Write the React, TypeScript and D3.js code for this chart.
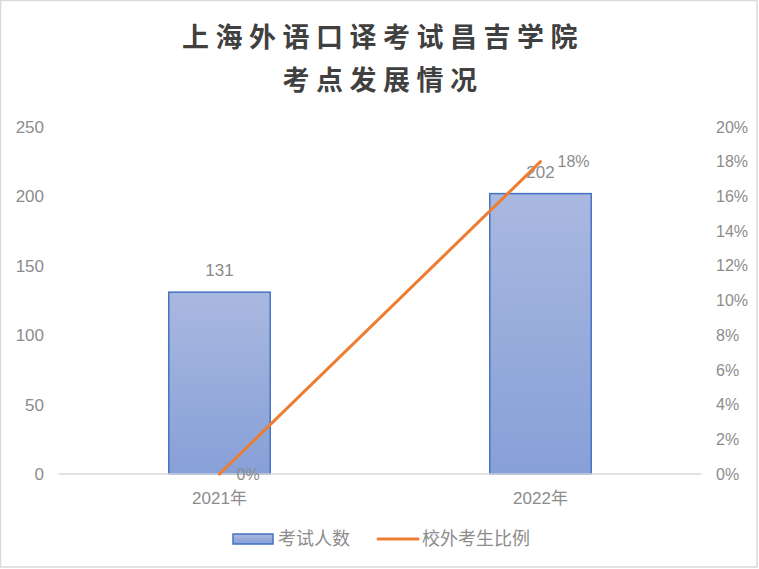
import React, { useRef, useEffect } from 'react';
import * as d3 from 'd3';

const years = ['2021年', '2022年'];
const examCounts = [131, 202];
const outsideRatio = [0, 0.18];
const leftTicks = [0, 50, 100, 150, 200, 250];
const rightTicks = [0, 0.02, 0.04, 0.06, 0.08, 0.1, 0.12, 0.14, 0.16, 0.18, 0.2];
const titleLines = ['上海外语口译考试昌吉学院', '考点发展情况'];
const legendNames = ['考试人数', '校外考生比例'];

const FONT = '"Liberation Sans", "Noto Sans CJK SC", sans-serif';
const CJK = '"Noto Sans CJK SC", sans-serif';
const GRAY = '#8c8c8c';

const App: React.FC = () => {
  const svgRef = useRef<SVGSVGElement>(null);
  const width = 759;
  const height = 569;

  useEffect(() => {
    if (!svgRef.current) return;
    const svg = d3.select(svgRef.current);
    svg.selectAll('*').remove();

    const plot = { left: 59, right: 701, top: 127, bottom: 474 };

    // background + frame
    svg.append('rect')
      .attr('x', 0.5).attr('y', 0.5)
      .attr('width', width - 2.5).attr('height', height - 2.5)
      .attr('fill', '#fff')
      .attr('stroke', '#d9d9d9')
      .attr('stroke-width', 1.5);

    const defs = svg.append('defs');
    const grad = defs.append('linearGradient')
      .attr('id', 'barFill')
      .attr('x1', 0).attr('y1', 0).attr('x2', 0).attr('y2', 1);
    grad.append('stop').attr('offset', '0%').attr('stop-color', '#a9b8e0');
    grad.append('stop').attr('offset', '100%').attr('stop-color', '#87a0d7');

    // Title
    titleLines.forEach((t, i) => {
      svg.append('text')
        .attr('x', 383)
        .attr('y', 47 + i * 43)
        .attr('text-anchor', 'middle')
        .attr('font-family', CJK)
        .attr('font-size', '27px')
        .attr('font-weight', 700)
        .attr('letter-spacing', '6.5px')
        .attr('fill', '#404040')
        .text(t);
    });

    // Scales
    const x = d3.scaleBand<string>()
      .domain(years)
      .range([plot.left, plot.right])
      .padding(0);
    const barW = x.bandwidth() * 0.316;
    const cx = (d: string) => (x(d) as number) + x.bandwidth() / 2;

    const yL = d3.scaleLinear().domain([0, 250]).range([plot.bottom, plot.top]);
    const yR = d3.scaleLinear().domain([0, 0.2]).range([plot.bottom, plot.top]);

    // Bars
    const g = svg.append('g');
    years.forEach((yr, i) => {
      g.append('rect')
        .attr('x', cx(yr) - barW / 2)
        .attr('y', yL(examCounts[i]))
        .attr('width', barW)
        .attr('height', yL(0) - yL(examCounts[i]))
        .attr('fill', 'url(#barFill)')
        .attr('stroke', '#4472c4')
        .attr('stroke-width', 1.5);
    });

    // Axis line
    svg.append('line')
      .attr('x1', plot.left).attr('x2', plot.right)
      .attr('y1', plot.bottom).attr('y2', plot.bottom)
      .attr('stroke', '#d9d9d9')
      .attr('stroke-width', 1.5);

    // Left ticks
    leftTicks.forEach(t => {
      svg.append('text')
        .attr('x', 44)
        .attr('y', yL(t))
        .attr('dy', '0.35em')
        .attr('text-anchor', 'end')
        .attr('font-family', FONT)
        .attr('font-size', '17px')
        .attr('fill', GRAY)
        .text(String(t));
    });

    // Right ticks
    rightTicks.forEach(t => {
      svg.append('text')
        .attr('x', 716)
        .attr('y', yR(t))
        .attr('dy', '0.35em')
        .attr('text-anchor', 'start')
        .attr('font-family', FONT)
        .attr('font-size', '16px')
        .attr('fill', GRAY)
        .text(d3.format('.0%')(t));
    });

    // Category labels
    years.forEach(yr => {
      svg.append('text')
        .attr('x', cx(yr))
        .attr('y', 504)
        .attr('text-anchor', 'middle')
        .attr('font-family', FONT)
        .attr('font-size', '17px')
        .attr('fill', GRAY)
        .text(yr);
    });

    // Bar value labels
    years.forEach((yr, i) => {
      svg.append('text')
        .attr('x', cx(yr))
        .attr('y', yL(examCounts[i]) - 16)
        .attr('text-anchor', 'middle')
        .attr('font-family', FONT)
        .attr('font-size', '17px')
        .attr('fill', GRAY)
        .text(String(examCounts[i]));
    });

    // Line
    const line = d3.line<number>()
      .x((_, i) => cx(years[i]))
      .y(d => yR(d));
    svg.append('path')
      .datum(outsideRatio)
      .attr('d', line)
      .attr('fill', 'none')
      .attr('stroke', '#ed7d31')
      .attr('stroke-width', 3)
      .attr('stroke-linecap', 'round');

    // Line value labels
    outsideRatio.forEach((v, i) => {
      svg.append('text')
        .attr('x', cx(years[i]) + 17)
        .attr('y', yR(v))
        .attr('dy', '0.35em')
        .attr('text-anchor', 'start')
        .attr('font-family', FONT)
        .attr('font-size', '16px')
        .attr('fill', GRAY)
        .text(d3.format('.0%')(v));
    });

    // Legend
    const ly = 539;
    svg.append('rect')
      .attr('x', 233).attr('y', ly - 5)
      .attr('width', 40).attr('height', 10)
      .attr('fill', 'url(#barFill)')
      .attr('stroke', '#4472c4')
      .attr('stroke-width', 1.5);
    svg.append('text')
      .attr('x', 278).attr('y', ly)
      .attr('dy', '0.36em')
      .attr('font-family', CJK)
      .attr('font-size', '18px')
      .attr('fill', GRAY)
      .text(legendNames[0]);

    svg.append('line')
      .attr('x1', 378).attr('x2', 418)
      .attr('y1', ly).attr('y2', ly)
      .attr('stroke', '#ed7d31')
      .attr('stroke-width', 3)
      .attr('stroke-linecap', 'round');
    svg.append('text')
      .attr('x', 422).attr('y', ly)
      .attr('dy', '0.36em')
      .attr('font-family', CJK)
      .attr('font-size', '18px')
      .attr('fill', GRAY)
      .text(legendNames[1]);
  }, []);

  return (
    <svg
      ref={svgRef}
      width={width}
      height={height}
      style={{ position: 'absolute', left: 0, top: 0 }}
    />
  );
};

export default App;
